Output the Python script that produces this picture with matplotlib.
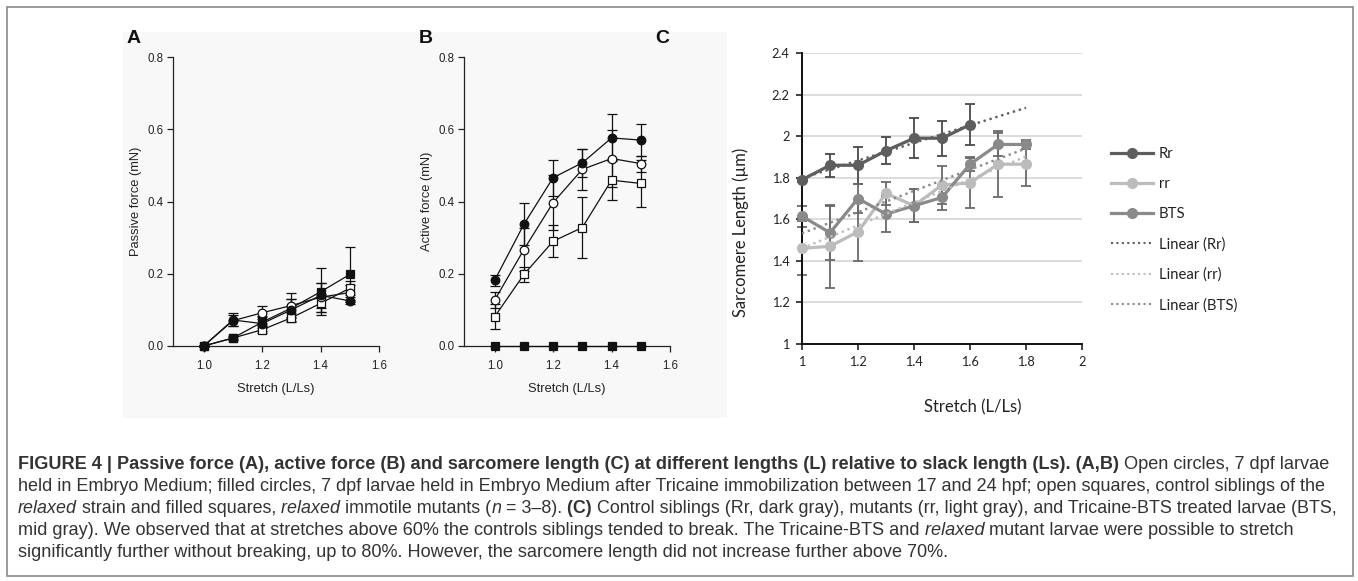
import numpy as np
import matplotlib
matplotlib.use("Agg")
import matplotlib.pyplot as plt
from matplotlib.lines import Line2D
from matplotlib.patches import Rectangle

# --- data: panels A and B (SigmaPlot style) ---
stretch_ab = [1.0, 1.1, 1.2, 1.3, 1.4, 1.5]

passive_open_circle = [0.0, 0.070, 0.092, 0.112, 0.135, 0.148]
passive_open_circle_err = [0.0, 0.015, 0.018, 0.035, 0.040, 0.020]
passive_filled_circle = [0.0, 0.072, 0.062, 0.100, 0.140, 0.125]
passive_filled_circle_err = [0.0, 0.018, 0.020, 0.030, 0.035, 0.010]
passive_open_square = [0.0, 0.022, 0.045, 0.078, 0.118, 0.160]
passive_open_square_err = [0.0, 0.005, 0.010, 0.012, 0.025, 0.020]
passive_filled_square = [0.0, 0.022, 0.066, 0.105, 0.150, 0.198]
passive_filled_square_err = [0.0, 0.004, 0.015, 0.025, 0.065, 0.075]

active_filled_circle = [0.182, 0.337, 0.466, 0.507, 0.576, 0.570]
active_filled_circle_err = [0.015, 0.058, 0.050, 0.038, 0.065, 0.045]
active_open_circle = [0.127, 0.267, 0.397, 0.489, 0.519, 0.505]
active_open_circle_err = [0.022, 0.060, 0.075, 0.056, 0.078, 0.022]
active_open_square = [0.081, 0.198, 0.290, 0.328, 0.459, 0.450]
active_open_square_err = [0.035, 0.022, 0.045, 0.085, 0.055, 0.065]
active_filled_square = [0.0, 0.0, 0.0, 0.0, 0.0, 0.0]

# --- data: panel C (Excel style) ---
stretch_rr_dark = [1.0, 1.1, 1.2, 1.3, 1.4, 1.5, 1.6]
stretch_c = [1.0, 1.1, 1.2, 1.3, 1.4, 1.5, 1.6, 1.7, 1.8]
sl_Rr = [1.79, 1.86, 1.86, 1.93, 1.99, 1.99, 2.055]
sl_Rr_err = [0.01, 0.055, 0.09, 0.065, 0.095, 0.085, 0.10]
sl_rr = [1.46, 1.47, 1.54, 1.725, 1.665, 1.765, 1.775, 1.865, 1.865]
sl_rr_err = [0.13, 0.20, 0.14, 0.055, 0.08, 0.09, 0.12, 0.16, 0.105]
sl_bts = [1.615, 1.535, 1.70, 1.625, 1.665, 1.705, 1.865, 1.96, 1.96]
sl_bts_err = [0.05, 0.13, 0.07, 0.085, 0.08, 0.06, 0.035, 0.055, 0.02]

W, H = 1358, 581
fig = plt.figure(figsize=(W / 100, H / 100), dpi=100)


def px_rect(left, top, right, bottom):
    return [left / W, 1 - bottom / H, (right - left) / W, (bottom - top) / H]


# outer frame and the faint gray scan background of A/B
fig.patches.append(Rectangle((7 / W, 1 - 576 / H), 1346 / W, 569 / H, transform=fig.transFigure,
                             fill=False, edgecolor="#8a8a8a", linewidth=1.2, zorder=-10))
fig.patches.append(Rectangle((123 / W, 1 - 418 / H), 604 / W, 386 / H, transform=fig.transFigure,
                             facecolor="#f8f8f8", edgecolor="none", zorder=-10))

AB_FONT = "Liberation Sans"


def sigma_axes(rect, ylabel):
    ax = fig.add_axes(rect)
    ax.set_facecolor("none")
    ax.set_xlim(0.895, 1.6)
    ax.set_ylim(0, 0.8)
    ax.set_xticks([1.0, 1.2, 1.4, 1.6])
    ax.set_yticks([0.0, 0.2, 0.4, 0.6, 0.8])
    ax.set_xticklabels(["1.0", "1.2", "1.4", "1.6"])
    ax.set_yticklabels(["0.0", "0.2", "0.4", "0.6", "0.8"])
    for s in ["top", "right"]:
        ax.spines[s].set_visible(False)
    for s in ["left", "bottom"]:
        ax.spines[s].set_linewidth(0.9)
        ax.spines[s].set_color("#222222")
    ax.tick_params(direction="out", length=4, width=0.9, labelsize=8.3, colors="#222222", pad=6)
    ax.tick_params(axis="y", pad=3)
    for lab in ax.get_xticklabels() + ax.get_yticklabels():
        lab.set_family(AB_FONT)
    ax.set_xlabel("Stretch (L/Ls)", family=AB_FONT, fontsize=9.3, color="#222222", labelpad=8)
    ax.set_ylabel(ylabel, family=AB_FONT, fontsize=9.3, color="#222222", labelpad=4)
    return ax


def sigma_series(ax, y, err, marker, filled):
    ax.errorbar(stretch_ab, y, yerr=err, color="#111111", linewidth=0.9, elinewidth=0.9,
                capsize=3.5, capthick=0.9, marker=marker, markersize=6.2,
                markerfacecolor="#111111" if filled else "white", markeredgecolor="#111111",
                markeredgewidth=0.9, clip_on=False, zorder=3)


ax_a = sigma_axes(px_rect(173, 57, 379, 346), "Passive force (mN)")
sigma_series(ax_a, passive_open_square, passive_open_square_err, "s", False)
sigma_series(ax_a, passive_filled_square, passive_filled_square_err, "s", True)
sigma_series(ax_a, passive_open_circle, passive_open_circle_err, "o", False)
sigma_series(ax_a, passive_filled_circle, passive_filled_circle_err, "o", True)

ax_b = sigma_axes(px_rect(464, 57, 670, 346), "Active force (mN)")
sigma_series(ax_b, active_open_square, active_open_square_err, "s", False)
sigma_series(ax_b, active_filled_square, [0] * 6, "s", True)
sigma_series(ax_b, active_open_circle, active_open_circle_err, "o", False)
sigma_series(ax_b, active_filled_circle, active_filled_circle_err, "o", True)

# --- panel C ---
C_FONT = "Lato"
col_Rr, col_rr, col_bts = "#5e5e5e", "#bcbcbc", "#8a8a8a"

ax_c = fig.add_axes(px_rect(802, 53, 1082, 344))
ax_c.set_xlim(1, 2)
ax_c.set_ylim(1, 2.4)
ax_c.set_xticks([1, 1.2, 1.4, 1.6, 1.8, 2])
ax_c.set_xticklabels(["1", "1.2", "1.4", "1.6", "1.8", "2"])
ax_c.set_yticks([1, 1.2, 1.4, 1.6, 1.8, 2, 2.2, 2.4])
ax_c.set_yticklabels(["1", "1.2", "1.4", "1.6", "1.8", "2", "2.2", "2.4"])
for s in ["top", "right"]:
    ax_c.spines[s].set_visible(False)
for s in ["left", "bottom"]:
    ax_c.spines[s].set_linewidth(1.4)
    ax_c.spines[s].set_color("#111111")
ax_c.yaxis.grid(True, color="#d9d9d9", linewidth=1.3)
ax_c.set_axisbelow(True)
ax_c.tick_params(direction="out", length=4, width=1.2, labelsize=9.2, colors="#222222", pad=5)
for lab in ax_c.get_xticklabels() + ax_c.get_yticklabels():
    lab.set_family(C_FONT)
ax_c.set_xlabel("Stretch (L/Ls)", family=C_FONT, fontsize=12, color="#222222")
ax_c.set_ylabel("Sarcomere Length (µm)", family=C_FONT, fontsize=11.9, color="#222222")
ax_c.xaxis.set_label_coords(0.611, -0.19)
ax_c.yaxis.set_label_coords(-0.19, 0.385)

series_c = [
    (stretch_rr_dark, sl_Rr, sl_Rr_err, col_Rr, "#4a4a4a"),
    (stretch_c, sl_rr, sl_rr_err, col_rr, "#6a6a6a"),
    (stretch_c, sl_bts, sl_bts_err, col_bts, "#6a6a6a"),
]
for xs, ys, es, col, ecol in series_c:
    ax_c.errorbar(xs, ys, yerr=es, fmt="none", ecolor=ecol, elinewidth=1.3, capsize=3.5,
                  capthick=1.3, zorder=2, clip_on=False)
for xs, ys, es, col, ecol in series_c:
    ax_c.plot(xs, ys, color=col, linewidth=2.3, marker="o", markersize=7, zorder=3, clip_on=False)

# Excel linear trendlines (Rr forecast forward to 1.8)
trend_x = np.array([1.0, 1.8])
for xs, ys, col in [(stretch_rr_dark, sl_Rr, col_Rr), (stretch_c, sl_rr, col_rr), (stretch_c, sl_bts, col_bts)]:
    k, b = np.polyfit(xs, ys, 1)
    ax_c.plot(trend_x, k * trend_x + b, color=col, linewidth=1.7, linestyle=(0, (1, 1.6)), zorder=4)

handles = [
    Line2D([], [], color=col_Rr, linewidth=2.3, marker="o", markersize=7),
    Line2D([], [], color=col_rr, linewidth=2.3, marker="o", markersize=7),
    Line2D([], [], color=col_bts, linewidth=2.3, marker="o", markersize=7),
    Line2D([], [], color=col_Rr, linewidth=1.5, linestyle=(0, (1, 1.6))),
    Line2D([], [], color=col_rr, linewidth=1.5, linestyle=(0, (1, 1.6))),
    Line2D([], [], color=col_bts, linewidth=1.5, linestyle=(0, (1, 1.6))),
]
labels = ["Rr", "rr", "BTS", "Linear (Rr)", "Linear (rr)", "Linear (BTS)"]
fig.legend(handles, labels, loc="upper left", bbox_to_anchor=(1111 / W, 1 - 147 / H),
           frameon=False, borderpad=0, borderaxespad=0, handlelength=2.8, handletextpad=0.4,
           labelspacing=1.08, prop={"family": C_FONT, "size": 10.7}, labelcolor="#222222")

# panel letters
for letter, x in [("A", 127), ("B", 419), ("C", 655)]:
    fig.text(x / W, 1 - 43 / H, letter, family=AB_FONT, fontsize=14, fontweight="bold",
             color="#111111", va="baseline", ha="left")

# --- caption, laid out piece by piece (bold / italic runs) ---
caption_lines = [
    [("FIGURE 4 | Passive force (A), active force (B) and sarcomere length (C) at different lengths (L) "
      "relative to slack length (Ls). (A,B)", "bold", "normal"),
     (" Open circles, 7 dpf larvae", "normal", "normal")],
    [("held in Embryo Medium; filled circles, 7 dpf larvae held in Embryo Medium after Tricaine "
      "immobilization between 17 and 24 hpf; open squares, control siblings of the", "normal", "normal")],
    [("relaxed", "normal", "italic"), (" strain and filled squares,", "normal", "normal"),
     (" relaxed", "normal", "italic"), (" immotile mutants (", "normal", "normal"),
     ("n", "normal", "italic"), (" = 3–8).", "normal", "normal"), (" (C)", "bold", "normal"),
     (" Control siblings (Rr, dark gray), mutants (rr, light gray), and Tricaine-BTS treated larvae (BTS,",
      "normal", "normal")],
    [("mid gray). We observed that at stretches above 60% the controls siblings tended to break. "
      "The Tricaine-BTS and", "normal", "normal"), (" relaxed", "normal", "italic"),
     (" mutant larvae were possible to stretch", "normal", "normal")],
    [("significantly further without breaking, up to 80%. However, the sarcomere length did not increase "
      "further above 70%.", "normal", "normal")],
]
caption_sizes = [13.1, 13.0, 12.92, 13.1, 13.1]
renderer = fig.canvas.get_renderer()
baseline = 469
for line, size in zip(caption_lines, caption_sizes):
    x = 18
    for text, weight, style in line:
        t = fig.text(x / W, 1 - baseline / H, text, family=AB_FONT, fontsize=size, fontweight=weight,
                     fontstyle=style, color="#333333", va="baseline", ha="left")
        x += t.get_window_extent(renderer).width
    baseline += 22

fig.savefig("out.png", dpi=100)
